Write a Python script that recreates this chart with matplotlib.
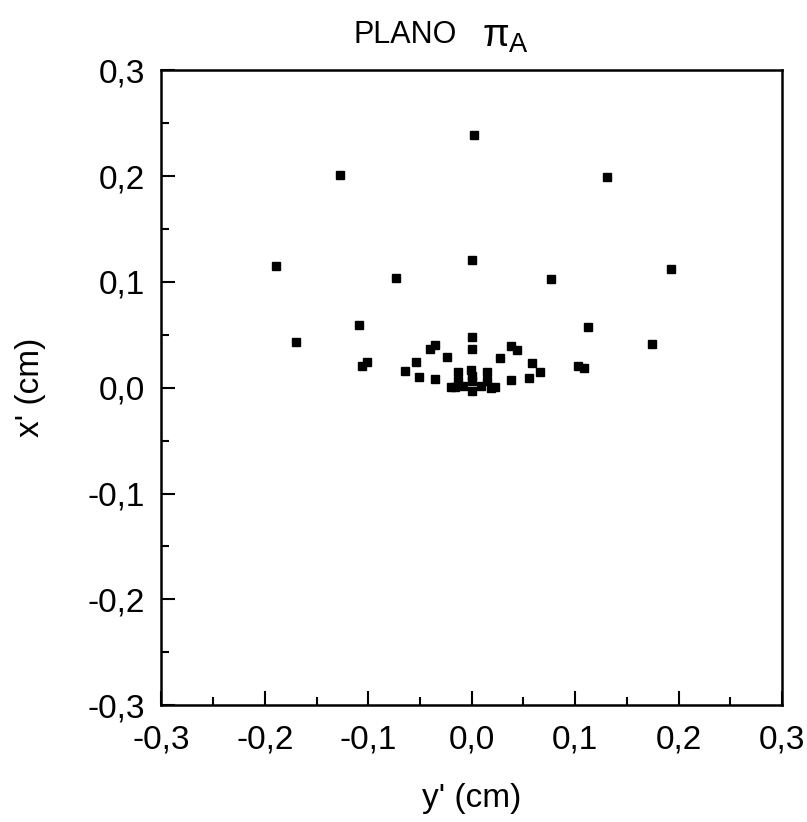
import numpy as np
import matplotlib
matplotlib.use("Agg")
import matplotlib.pyplot as plt
from matplotlib.ticker import MultipleLocator, FuncFormatter

plt.rcParams['font.family'] = ['Liberation Sans', 'DejaVu Sans']
plt.rcParams['mathtext.fontset'] = 'custom'
plt.rcParams['mathtext.rm'] = 'Liberation Sans'
plt.rcParams['mathtext.it'] = 'Liberation Sans'

# y' (horizontal) and x' (vertical) positions of the image points, in cm
y_prime = [0.002, -0.127, 0.131, -0.189, 0.0, -0.073, 0.077, 0.193,
           -0.109, -0.170, 0.112, 0.174, -0.106, -0.101, 0.103, 0.109,
           0.0, 0.0, -0.040, -0.035, 0.038, 0.044, -0.024, 0.027,
           -0.054, -0.064, -0.051, -0.035, 0.058, 0.066, 0.055, 0.038,
           -0.013, -0.013, -0.020, -0.001, 0.0, 0.0, 0.015, 0.015,
           0.023, 0.009, -0.008, -0.016, 0.019, 0.0]
x_prime = [0.239, 0.201, 0.199, 0.115, 0.121, 0.104, 0.103, 0.112,
           0.059, 0.043, 0.057, 0.041, 0.021, 0.024, 0.021, 0.019,
           0.0475, 0.0366, 0.037, 0.040, 0.039, 0.036, 0.029, 0.028,
           0.024, 0.016, 0.010, 0.008, 0.023, 0.015, 0.009, 0.007,
           0.015, 0.006, 0.001, 0.017, 0.006, -0.003, 0.015, 0.006,
           0.001, 0.002, 0.002, 0.001, 0.0, 0.011]

fig = plt.figure(figsize=(8.07, 8.22), dpi=100)
ax = fig.add_axes([0.2, 0.1423, 0.769, 0.772])

ax.plot(y_prime, x_prime, linestyle='none', marker='s', markersize=6,
        color='black')

ax.set_xlim(-0.3, 0.3)
ax.set_ylim(-0.3, 0.3)

fmt = FuncFormatter(lambda v, pos: f"{v:.1f}".replace('.', ',').replace('-0,0', '0,0'))
for axis in (ax.xaxis, ax.yaxis):
    axis.set_major_locator(MultipleLocator(0.1))
    axis.set_minor_locator(MultipleLocator(0.05))
    axis.set_major_formatter(fmt)

ax.tick_params(which='both', direction='in', top=False, right=False,
               width=1.5, labelsize=24)
ax.tick_params(axis='x', pad=14)
ax.tick_params(axis='y', pad=12)
ax.tick_params(which='major', length=10)
ax.tick_params(which='minor', length=6)
for s in ax.spines.values():
    s.set_linewidth(1.8)

ax.set_xlabel("y' (cm)", fontsize=24, labelpad=20)
ax.set_ylabel("x' (cm)", fontsize=24, labelpad=30)

# title: plain "PLANO" plus a larger pi with subscript A
fig.text(0.566, 0.957, "PLANO", fontsize=22, ha='right', va='center')
fig.text(0.597, 0.955, r"$\pi_\mathrm{A}$", fontsize=28, ha='left', va='center')

fig.savefig("out.png", dpi=100)
